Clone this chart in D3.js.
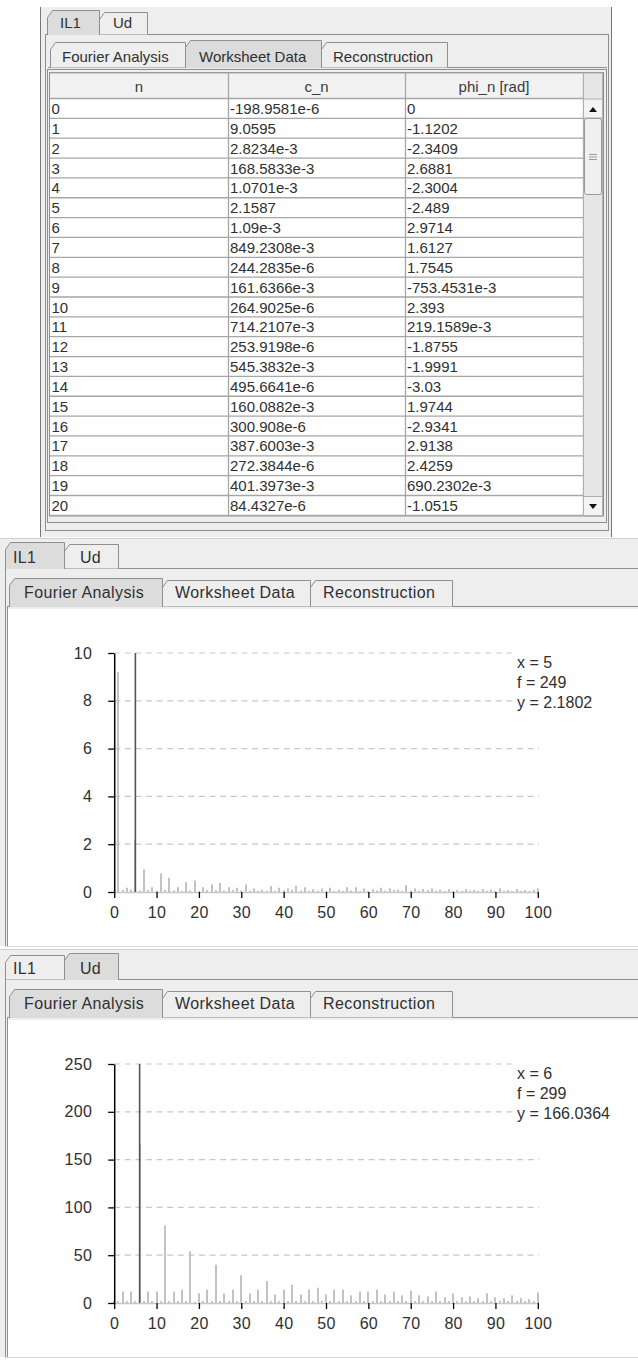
<!DOCTYPE html>
<html>
<head>
<meta charset="utf-8">
<script src="https://cdn.jsdelivr.net/npm/d3@7/dist/d3.min.js"></script>
<style>
  html, body { margin: 0; padding: 0; background: #ffffff; }
  svg { display: block; font-family: "Liberation Sans", Arial, sans-serif; }
</style>
</head>
<body>
<svg id="view" width="638" height="1360"></svg>
<script>
// ---- worksheet table (IL1) ----
const tableColumns = ["n", "c_n", "phi_n [rad]"];
const tableN = ["0","1","2","3","4","5","6","7","8","9","10","11","12","13","14","15","16","17","18","19","20"];
const tableCn = ["-198.9581e-6","9.0595","2.8234e-3","168.5833e-3","1.0701e-3","2.1587","1.09e-3","849.2308e-3",
  "244.2835e-6","161.6366e-3","264.9025e-6","714.2107e-3","253.9198e-6","545.3832e-3","495.6641e-6",
  "160.0882e-3","300.908e-6","387.6003e-3","272.3844e-6","401.3973e-3","84.4327e-6"];
const tablePhi = ["0","-1.1202","-2.3409","2.6881","-2.3004","-2.489","2.9714","1.6127","1.7545","-753.4531e-3",
  "2.393","219.1589e-3","-1.8755","-1.9991","-3.03","1.9744","-2.9341","2.9138","2.4259","690.2302e-3","-1.0515"];

// ---- tab labels ----
const signalTabs = ["IL1", "Ud"];
const viewTabs = ["Fourier Analysis", "Worksheet Data", "Reconstruction"];

// ---- spectra, harmonic n = 0..100 ----
const il1Amp = [0, 9.2, 0.08, 0.18, 0.1, 2.1802, 0.06, 0.95, 0.08, 0.2, 0.06,
  0.78, 0.08, 0.6, 0.06, 0.2, 0.05, 0.42, 0.06, 0.48, 0.05,
  0.2, 0.08, 0.32, 0.08, 0.38, 0.06, 0.2, 0.08, 0.18, 0.06,
  0.32, 0.05, 0.15, 0.05, 0.1, 0.05, 0.25, 0.05, 0.18, 0.08,
  0.15, 0.1, 0.25, 0.06, 0.2, 0.05, 0.12, 0.05, 0.15, 0.05,
  0.18, 0.04, 0.1, 0.05, 0.2, 0.06, 0.2, 0.04, 0.15, 0.05,
  0.12, 0.06, 0.18, 0.05, 0.15, 0.08, 0.1, 0.05, 0.28, 0.06,
  0.15, 0.05, 0.12, 0.08, 0.15, 0.05, 0.1, 0.04, 0.12, 0.05,
  0.08, 0.04, 0.12, 0.05, 0.08, 0.04, 0.12, 0.05, 0.1, 0.04,
  0.15, 0.05, 0.08, 0.04, 0.12, 0.04, 0.08, 0.04, 0.1, 0.15];
const udAmp = [2, 2, 12, 2, 12, 2, 166.0364, 2, 12, 2, 12,
  2, 81, 2, 12, 2, 14, 2, 54, 1, 10,
  2, 14, 2, 40, 2, 10, 2, 14, 2, 29,
  2, 10, 2, 14, 2, 23, 2, 9, 2, 14,
  2, 19, 2, 9, 2, 14, 2, 16, 2, 9,
  2, 14, 2, 14, 2, 8, 2, 12, 2, 12,
  2, 14, 2, 9, 2, 12, 2, 8, 2, 13,
  2, 8, 2, 7, 2, 12, 2, 6, 2, 10,
  2, 6, 2, 7, 2, 5, 2, 10, 2, 6,
  2, 5, 2, 8, 2, 5, 2, 4, 2, 11];

const xTicks = [0, 10, 20, 30, 40, 50, 60, 70, 80, 90, 100];
const il1YTicks = [0, 2, 4, 6, 8, 10];
const udYTicks = [0, 50, 100, 150, 200, 250];
const il1Cursor = { x: 5, f: 249, y: 2.1802 };
const udCursor = { x: 6, f: 299, y: 166.0364 };

const svg = d3.select("#view");
const BORDER = "#8f8f8f", TAB_ON = "#dcdcdc", TAB_OFF = "#eeeeee", PANEL = "#eeeeee", INK = "#303030";

function drawTab(g, x0, x1, yTop, yBot, label, textX, baseline, selected, fs, ls) {
  g.append("path")
    .attr("d", `M${x0},${yBot} V${yTop + 7} L${x0 + 5},${yTop} H${x1} V${yBot}`)
    .attr("fill", selected ? TAB_ON : TAB_OFF)
    .attr("stroke", BORDER).attr("stroke-width", 1);
  g.append("text").attr("x", textX).attr("y", baseline)
    .attr("font-size", fs).attr("letter-spacing", ls || 0).attr("fill", INK).text(label);
}

// ================= worksheet panel =================
(function worksheet() {
  const g = svg.append("g");
  g.append("rect").attr("x", 40).attr("y", 7).attr("width", 572).attr("height", 530).attr("fill", PANEL);
  g.append("line").attr("x1", 40.5).attr("x2", 40.5).attr("y1", 7).attr("y2", 537).attr("stroke", "#777");
  g.append("line").attr("x1", 611.5).attr("x2", 611.5).attr("y1", 7).attr("y2", 537).attr("stroke", "#777");

  // outer tab pane
  g.append("rect").attr("x", 45.5).attr("y", 34.5).attr("width", 563).attr("height", 496)
    .attr("fill", PANEL).attr("stroke", BORDER);
  drawTab(g, 99.5, 147.5, 12.5, 34.5, signalTabs[1], 113, 28, false, 15);
  drawTab(g, 47.5, 99.5, 10.5, 35, signalTabs[0], 60, 28, true, 15);

  // view tabs
  g.append("line").attr("x1", 48).attr("x2", 607).attr("y1", 67.5).attr("y2", 67.5).attr("stroke", BORDER);
  drawTab(g, 50.5, 185.5, 42.5, 67.5, viewTabs[0], 62, 62, false, 15);
  drawTab(g, 321.5, 447.5, 42.5, 67.5, viewTabs[2], 333, 62, false, 15);
  drawTab(g, 185.5, 321.5, 40.5, 68, viewTabs[1], 199, 62, true, 15);

  // scroll pane
  g.append("rect").attr("x", 47.5).attr("y", 69.5).attr("width", 559).attr("height", 453)
    .attr("fill", PANEL).attr("stroke", BORDER);
  g.append("rect").attr("x", 49.5).attr("y", 72.5).attr("width", 554).attr("height", 443.5)
    .attr("fill", "#ffffff").attr("stroke", BORDER);

  const colX = [50, 228, 405, 583];
  const headTop = 73, headBot = 98.5, rowH = 19.85;
  const rowY = d3.scaleLinear().domain([0, 1]).range([headBot, headBot + rowH]);

  g.append("rect").attr("x", colX[0]).attr("y", headTop).attr("width", colX[3] - colX[0]).attr("height", headBot - headTop)
    .attr("fill", "#f2f2f2");
  tableColumns.forEach((c, i) => {
    g.append("text").attr("x", (colX[i] + colX[i + 1]) / 2).attr("y", 91.5)
      .attr("text-anchor", "middle").attr("font-size", 15).attr("fill", "#3a3a3a").text(c);
  });

  const rows = tableN.map((n, i) => ({ n, c: tableCn[i], p: tablePhi[i], i }));
  const rg = g.append("g");
  rg.selectAll("line.h").data(d3.range(tableN.length + 1)).join("line")
    .attr("x1", colX[0]).attr("x2", colX[3])
    .attr("y1", d => rowY(d)).attr("y2", d => rowY(d))
    .attr("stroke", "#a6a6a6").attr("stroke-width", 1.3);
  rg.append("line").attr("x1", colX[0]).attr("x2", colX[3]).attr("y1", headTop).attr("y2", headTop)
    .attr("stroke", "#a6a6a6");
  [colX[1], colX[2], colX[3]].forEach(x => {
    rg.append("line").attr("x1", x + 0.5).attr("x2", x + 0.5).attr("y1", headTop).attr("y2", rowY(tableN.length))
      .attr("stroke", "#a6a6a6").attr("stroke-width", 1.3);
  });
  const cellText = (key, x) => rg.selectAll(null).data(rows).join("text")
    .attr("x", x).attr("y", d => rowY(d.i) + 15.5)
    .attr("font-size", 15).attr("fill", INK).text(d => d[key]);
  cellText("n", 51.5);
  cellText("c", 230);
  cellText("p", 407);

  // vertical scrollbar
  const sb = g.append("g");
  sb.append("rect").attr("x", 583.5).attr("y", headTop).attr("width", 19).attr("height", 443).attr("fill", "#e6e6e6")
    .attr("stroke", "#b0b0b0");
  sb.append("rect").attr("x", 583.5).attr("y", 99).attr("width", 19).attr("height", 19).attr("fill", "#f4f4f4").attr("stroke", "#b0b0b0");
  sb.append("path").attr("d", "M589,112 L597,112 L593,107 Z").attr("fill", "#111");
  sb.append("rect").attr("x", 584.5).attr("y", 118.5).attr("width", 17).attr("height", 76).attr("rx", 2)
    .attr("fill", "#f0f0f0").attr("stroke", "#9a9a9a");
  [154.5, 157, 159.5].forEach(y => sb.append("line").attr("x1", 589).attr("x2", 597).attr("y1", y).attr("y2", y).attr("stroke", "#999"));
  sb.append("rect").attr("x", 583.5).attr("y", 496.5).attr("width", 19).attr("height", 19).attr("fill", "#f4f4f4").attr("stroke", "#b0b0b0");
  sb.append("path").attr("d", "M589,504 L597,504 L593,509 Z").attr("fill", "#111");
})();

// ================= spectrum panels =================
function spectrumPanel(dy, selectedSignal, amp, yTicks, yMax, cursor) {
  const g = svg.append("g").attr("transform", `translate(0,${dy})`);
  g.append("rect").attr("x", 0).attr("y", 0).attr("width", 638).attr("height", 408).attr("fill", PANEL);
  g.append("line").attr("x1", 0).attr("x2", 638).attr("y1", 0.5).attr("y2", 0.5).attr("stroke", "#d0d0d0");

  // signal tabs
  g.append("line").attr("x1", 5).attr("x2", 638).attr("y1", 30.5).attr("y2", 30.5).attr("stroke", BORDER);
  const sigTabs = [
    { x0: 5.5, x1: 64.5, tx: 13, label: signalTabs[0] },
    { x0: 64.5, x1: 118.5, tx: 80, label: signalTabs[1] }
  ];
  sigTabs.forEach((t, i) => {
    if (i !== selectedSignal) drawTab(g, t.x0, t.x1, 6.5, 30.5, t.label, t.tx, 24.5, false, 16, 0.3);
  });
  const st = sigTabs[selectedSignal];
  drawTab(g, st.x0, st.x1, 4.5, 31, st.label, st.tx, 24.5, true, 16, 0.3);

  // left border of the pane
  g.append("line").attr("x1", 5.5).attr("x2", 5.5).attr("y1", 30).attr("y2", 408).attr("stroke", BORDER);

  // view tabs
  g.append("line").attr("x1", 8).attr("x2", 638).attr("y1", 68.5).attr("y2", 68.5).attr("stroke", BORDER);
  drawTab(g, 162.5, 310.5, 42.5, 68.5, viewTabs[1], 175, 60, false, 16, 0.4);
  drawTab(g, 310.5, 452.5, 42.5, 68.5, viewTabs[2], 323, 60, false, 16, 0.4);
  drawTab(g, 9.5, 162.5, 40.5, 69, viewTabs[0], 24, 60, true, 16, 0.4);

  // plot canvas
  g.append("rect").attr("x", 8).attr("y", 71).attr("width", 630).attr("height", 337).attr("fill", "#ffffff");
  g.append("line").attr("x1", 7.5).attr("x2", 7.5).attr("y1", 68).attr("y2", 408).attr("stroke", BORDER);
  g.append("line").attr("x1", 5).attr("x2", 638).attr("y1", 408.5).attr("y2", 408.5).attr("stroke", "#d8d8d8");

  const x = d3.scaleLinear().domain([0, 100]).range([114.2, 537.8]);
  const y = d3.scaleLinear().domain([0, yMax]).range([354, 115]);

  // dashed grid
  g.append("g").selectAll("line").data(yTicks.filter(v => v > 0)).join("line")
    .attr("x1", x(0)).attr("x2", 539).attr("y1", d => y(d)).attr("y2", d => y(d))
    .attr("stroke", "#c8c8c8").attr("stroke-width", 1.2).attr("stroke-dasharray", "6,4.6");

  // harmonic bars
  const bars = amp.map((v, n) => ({ n, v }));
  g.append("g").selectAll("rect").data(bars).join("rect")
    .attr("x", d => Math.round(x(d.n)) - 1).attr("width", 2)
    .attr("y", d => y(d.v)).attr("height", d => y(0) - y(d.v))
    .attr("fill", "#c2c2c2");

  // x axis: grey baseline, black ticks
  const xa = g.append("g").attr("transform", `translate(0,${y(0)})`)
    .call(d3.axisBottom(x).tickValues(xTicks).tickSize(6).tickSizeOuter(0).tickPadding(9));
  xa.select(".domain").attr("stroke", "#c8c8c8").attr("stroke-width", 1.3);
  xa.selectAll(".tick line").attr("stroke", "#000").attr("stroke-width", 1.3);
  xa.selectAll("text").attr("font-size", 16).attr("letter-spacing", 0.3)
    .attr("font-family", "Liberation Sans, Arial, sans-serif").attr("fill", INK);

  // y axis
  const ya = g.append("g").attr("transform", `translate(${x(0)},0)`)
    .call(d3.axisLeft(y).tickValues(yTicks).tickSize(6).tickSizeOuter(0).tickPadding(16));
  ya.select(".domain").attr("stroke", "#000").attr("stroke-width", 1.5);
  ya.selectAll(".tick line").attr("stroke", "#000").attr("stroke-width", 1.3);
  ya.selectAll("text").attr("font-size", 16).attr("letter-spacing", 0.3)
    .attr("font-family", "Liberation Sans, Arial, sans-serif").attr("fill", INK);

  // cursor
  g.append("line").attr("x1", x(cursor.x)).attr("x2", x(cursor.x)).attr("y1", y(0)).attr("y2", y(yMax))
    .attr("stroke", "#555").attr("stroke-width", 1.6);

  // cursor readout
  const lines = [`x = ${cursor.x}`, `f = ${cursor.f}`, `y = ${cursor.y}`];
  g.append("rect").attr("x", 516).attr("y", 108).attr("width", 110).attr("height", 66).attr("fill", "#ffffff");
  g.append("g").selectAll("text").data(lines).join("text")
    .attr("x", 517).attr("y", (d, i) => 130 + i * 20.2)
    .attr("font-size", 16).attr("fill", INK).text(d => d);
}

spectrumPanel(538, 0, il1Amp, il1YTicks, 10, il1Cursor);
spectrumPanel(949, 1, udAmp, udYTicks, 250, udCursor);
</script>
</body>
</html>
